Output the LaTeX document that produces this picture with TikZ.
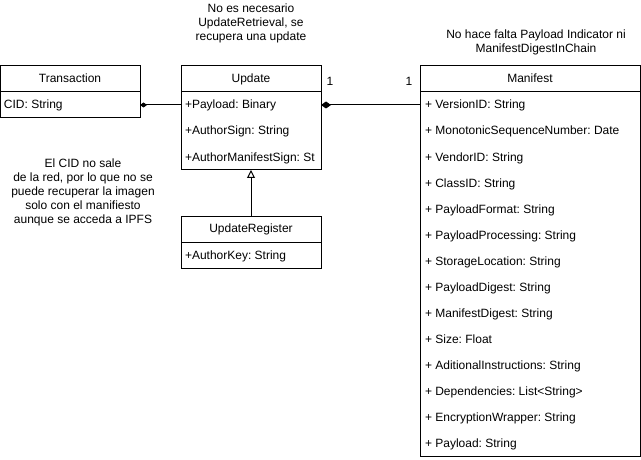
\documentclass[tikz,border=0pt]{standalone}
\usepackage{fontspec}
\setmainfont{Liberation Sans}
\usetikzlibrary{arrows.meta,positioning}

\tikzset{
  classhead/.style={draw,minimum height=26pt,inner sep=0pt,outer sep=0pt,text height=10pt,text depth=2pt},
  classbody/.style={draw,inner sep=0pt,outer sep=0pt},
  attr/.style={anchor=west,inner sep=4pt,outer sep=0pt,text height=10pt,text depth=2pt},
  note/.style={align=center,inner sep=0pt}
}

\begin{document}
\frenchspacing
\begin{tikzpicture}[x=1pt,y=-1pt,line width=1pt,font=\fontsize{12}{14}\selectfont]
\useasboundingbox (0,0) rectangle (641,460);

% Transaction
\node[classhead,minimum width=140pt] (tr-head) at (70,79) {Transaction};
\node[classbody,minimum width=140pt,minimum height=26pt,below=0pt of tr-head] (tr-body) {};
\node[attr] (tr-a1) at (0,105) {CID: String};

% Update
\node[classhead,minimum width=140pt] (upd-head) at (251,79) {Update};
\node[classbody,minimum width=140pt,minimum height=78pt,below=0pt of upd-head] (upd-body) {};
\node[attr] (upd-a1) at (181,105) {+Payload: Binary};
\node[attr] (upd-a2) at (181,131) {+AuthorSign: String};
\node[attr] (upd-a3) at (181,157) {+AuthorManifestSign: St};

% UpdateRegister
\node[classhead,minimum width=140pt] (reg-head) at (251,229) {UpdateRegister};
\node[classbody,minimum width=140pt,minimum height=26pt,below=0pt of reg-head] (reg-body) {};
\node[attr] (reg-a1) at (181,255) {+AuthorKey: String};

% Manifest
\node[classhead,minimum width=220pt] (man-head) at (530,79) {Manifest};
\node[classbody,minimum width=220pt,minimum height=364pt,below=0pt of man-head] (man-body) {};
\node[attr] (man-a1) at (421,105) {+ VersionID: String};
\node[attr] (man-a2) at (421,131) {+ MonotonicSequenceNumber: Date};
\node[attr] (man-a3) at (421,157) {+ VendorID: String};
\node[attr] (man-a4) at (421,183) {+ ClassID: String};
\node[attr] (man-a5) at (421,209) {+ PayloadFormat: String};
\node[attr] (man-a6) at (421,235) {+ PayloadProcessing: String};
\node[attr] (man-a7) at (421,261) {+ StorageLocation: String};
\node[attr] (man-a8) at (421,287) {+ PayloadDigest: String};
\node[attr] (man-a9) at (421,313) {+ ManifestDigest: String};
\node[attr] (man-a10) at (421,339) {+ Size: Float};
\node[attr] (man-a11) at (421,365) {+ AditionalInstructions: String};
\node[attr] (man-a12) at (421,391) {+ Dependencies: List<String>};
\node[attr] (man-a13) at (421,417) {+ EncryptionWrapper: String};
\node[attr] (man-a14) at (421,443) {+ Payload: String};

% relations
\draw[{Diamond[length=7pt,width=5pt]}-] (tr-body.east) -- (upd-a1.west);
\draw[{Diamond[length=10pt,width=7pt]}-] (upd-a1 -| upd-body.east) -- (man-a1 -| man-body.west);
\draw[-{Triangle[open,length=8pt,width=8pt]}] (reg-head.north) -- (upd-body.south);

\node (mult-upd) at (330,81) {1};
\node (mult-man) at (409,81) {1};

% notes
\node[note] (note-upd) at (251,23) {No es necesario\\UpdateRetrieval, se\\recupera una update};
\node[note] (note-man) at (536,42) {No hace falta Payload Indicator ni\\ManifestDigestInChain};
\node[note] (note-cid) at (83,192) {El CID no sale\\de la red, por lo que no se\\puede recuperar la imagen\\solo con el manifiesto\\aunque se acceda a IPFS};

\end{tikzpicture}
\end{document}
